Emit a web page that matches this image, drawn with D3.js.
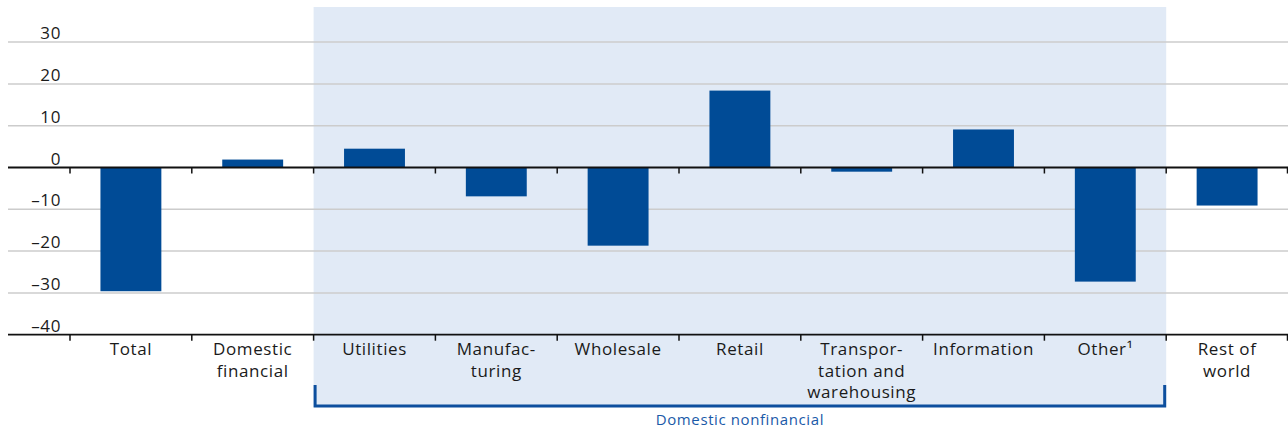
<!DOCTYPE html>
<meta charset="utf-8">
<script src="https://d3js.org/d3.v7.min.js"></script>
<style>
  body { margin: 0; background: #fff; }
  text { font-family: "Open Sans", sans-serif; fill: #1a1a1a; letter-spacing: 0.6px; }
</style>
<div id="chart"></div>
<script>
// categories (lines of each label) and values
var categories = ["Total", "Domestic financial", "Utilities", "Manufacturing", "Wholesale",
  "Retail", "Transportation and warehousing", "Information", "Other", "Rest of world"]
var labelLines = [["Total"], ["Domestic", "financial"], ["Utilities"], ["Manufac-", "turing"],
  ["Wholesale"], ["Retail"], ["Transpor-", "tation and", "warehousing"], ["Information"],
  ["Other\u00b9"], ["Rest of", "world"]]
var values = [-29.6, 1.9, 4.5, -6.9, -18.7, 18.4, -1.0, 9.1, -27.3, -9.1]
var yTicks = [30, 20, 10, 0, -10, -20, -30, -40]
var groupFirst = "Utilities", groupLast = "Other", groupLabel = "Domestic nonfinancial"

var W = 1288, H = 430
var svg = d3.select("#chart").append("svg").attr("width", W).attr("height", H)

var x = d3.scaleBand().domain(categories).range([70, 1288]).paddingInner(0.5).paddingOuter(0.25)
var xEdge = d3.scaleBand().domain(categories).range([70, 1288])
var y = d3.scaleLinear().domain([-40, 30]).range([334.7, 42.1])

// shaded group
var gx0 = xEdge(groupFirst), gx1 = xEdge(groupLast) + xEdge.bandwidth()
svg.append("rect").attr("x", gx0).attr("y", 7).attr("width", gx1 - gx0).attr("height", 407 - 7)
  .attr("fill", "#e1eaf6")

// gridlines
svg.append("g").selectAll("line").data(yTicks.filter(d => d != 0 && d != -40)).join("line")
  .attr("x1", 8).attr("x2", W).attr("y1", d => y(d)).attr("y2", d => y(d))
  .attr("stroke", "#cccccc").attr("stroke-width", 1.5)

// tick labels
svg.append("g").selectAll("text").data(yTicks).join("text")
  .attr("x", 61).attr("y", d => y(d) - 3).attr("text-anchor", "end")
  .attr("font-size", 17)
  .text(d => d < 0 ? "\u2013" + Math.abs(d) : d)

// bars
svg.append("g").selectAll("rect").data(values).join("rect")
  .attr("x", (d, i) => x(categories[i]))
  .attr("width", x.bandwidth())
  .attr("y", d => y(Math.max(0, d)))
  .attr("height", d => Math.abs(y(d) - y(0)))
  .attr("fill", "#004b96")

// zero line and bottom axis with tick marks
var edges = categories.map(c => xEdge(c)).concat([1287.5])
;[0, -40].forEach(function(v) {
  svg.append("line").attr("x1", 8).attr("x2", W).attr("y1", y(v)).attr("y2", y(v))
    .attr("stroke", "#111").attr("stroke-width", 1.8)
  svg.append("g").selectAll("line").data(edges).join("line")
    .attr("x1", d => d).attr("x2", d => d).attr("y1", y(v)).attr("y2", y(v) + 6)
    .attr("stroke", "#111").attr("stroke-width", 1.5)
})

// category labels
var lab = svg.append("g").selectAll("text").data(labelLines).join("text")
  .attr("text-anchor", "middle").attr("font-size", 17)
  .attr("transform", (d, i) => "translate(" + (xEdge(categories[i]) + xEdge.bandwidth() / 2) + ",0)")
lab.selectAll("tspan").data(d => d).join("tspan")
  .attr("x", 0).attr("y", (d, j) => 355 + j * 21.5).text(d => d)

// bracket
svg.append("path")
  .attr("d", "M" + (gx0 + 1.5) + ",385 V406 H" + (gx1 - 1.5) + " V385")
  .attr("fill", "none").attr("stroke", "#0d4f9e").attr("stroke-width", 3)
svg.append("text").attr("x", (gx0 + gx1) / 2).attr("y", 425).attr("text-anchor", "middle")
  .attr("font-size", 15).style("fill", "#1b5aa8").text(groupLabel)
</script>
